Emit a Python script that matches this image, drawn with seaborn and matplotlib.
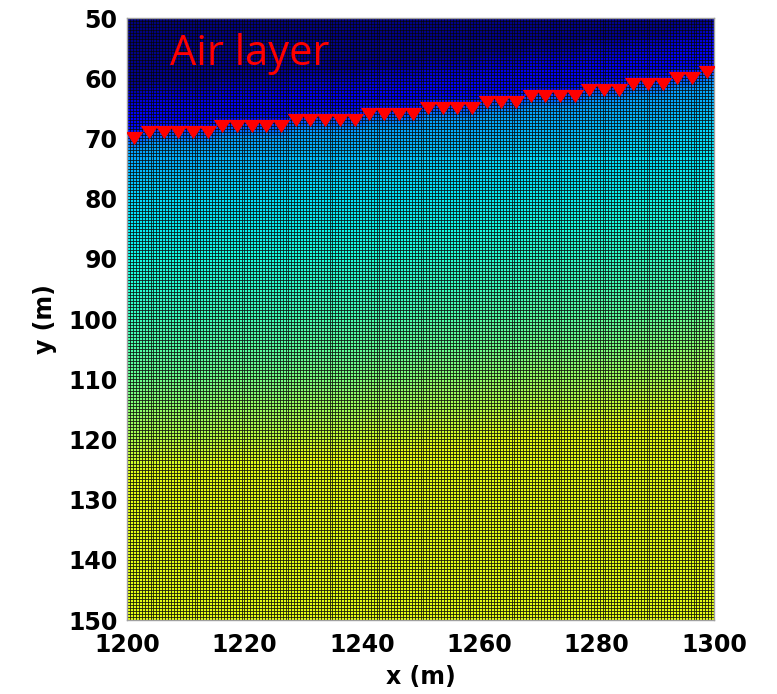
import numpy as np
import pandas as pd
import matplotlib
matplotlib.use("Agg")
import matplotlib.pyplot as plt
import seaborn as sns

# Receiver positions along the profile (m) and their surface elevation (y, m)
receiver_x = [1201.25 + 2.5 * i for i in range(40)]
receiver_y = [70,
              69, 69, 69, 69, 69,
              68, 68, 68, 68, 68,
              67, 67, 67, 67, 67,
              66, 66, 66, 66,
              65, 65, 65, 65,
              64, 64, 64,
              63, 63, 63, 63,
              62, 62, 62,
              61, 61, 61,
              60, 60,
              59]

# Model property versus depth below the ground surface (normalised colour value)
profile_depth = [-20, -9, -6, -3, -1, 0, 2, 10, 20, 30, 40, 50, 56, 100]
profile_value = [0.0, 0.02, 0.08, 0.125, 0.145, 0.2, 0.28, 0.34, 0.37, 0.42, 0.475, 0.56, 0.625, 0.625]

x_ticks = [1200, 1220, 1240, 1260, 1280, 1300]
y_ticks = [50, 60, 70, 80, 90, 100, 110, 120, 130, 140, 150]

# Mesh of 0.5 m cells
cell = 0.5
x_edges = np.arange(1200, 1300 + cell / 2, cell)
y_edges = np.arange(50, 150 + cell / 2, cell)
xc = 0.5 * (x_edges[:-1] + x_edges[1:])
yc = 0.5 * (y_edges[:-1] + y_edges[1:])

surface = np.interp(xc, receiver_x, receiver_y)
depth = yc[:, None] - surface[None, :]
field = np.interp(depth, profile_depth, profile_value)

sns.set_theme(style="white")
plt.rcParams["font.family"] = ["DejaVu Sans"]
plt.rcParams["text.color"] = "black"
plt.rcParams["axes.labelcolor"] = "black"
plt.rcParams["xtick.color"] = "black"
plt.rcParams["ytick.color"] = "black"

fig = plt.figure(figsize=(7.77, 6.94), dpi=100)
ax = fig.add_axes([0.1635, 0.1066, 0.7555, 0.8674])

ax.pcolormesh(x_edges, y_edges, field, cmap="jet", vmin=0, vmax=1,
              edgecolors="black", linewidth=0.45, antialiased=True)

receivers = pd.DataFrame({"x": receiver_x, "y": receiver_y})
tri = [(-1.0, 0.75), (1.0, 0.75), (0.0, -0.75)]
sns.scatterplot(data=receivers, x="x", y="y", marker=tri, s=160,
                color="#ff0000", linewidth=0, ax=ax, zorder=5)

ax.text(1207.3, 56.0, "Air layer", color="#ff0000", fontsize=30,
        family="Open Sans", ha="left", va="center", zorder=6)

ax.set_xlim(1200, 1300)
ax.set_ylim(150, 50)
ax.set_xticks(x_ticks)
ax.set_yticks(y_ticks)
ax.tick_params(axis="both", length=0, labelsize=17, colors="black")
ax.tick_params(axis="x", pad=9)
ax.tick_params(axis="y", pad=7)
for lab in ax.get_xticklabels() + ax.get_yticklabels():
    lab.set_fontweight("bold")
ax.set_xlabel("x (m)", fontsize=17, fontweight="bold", labelpad=6, color="black")
ax.set_ylabel("y (m)", fontsize=17, fontweight="bold", labelpad=8, color="black")
for sp in ax.spines.values():
    sp.set_color("#a0a0a0")
    sp.set_linewidth(1.0)
    sp.set_visible(True)

fig.savefig("out.png", dpi=100)
